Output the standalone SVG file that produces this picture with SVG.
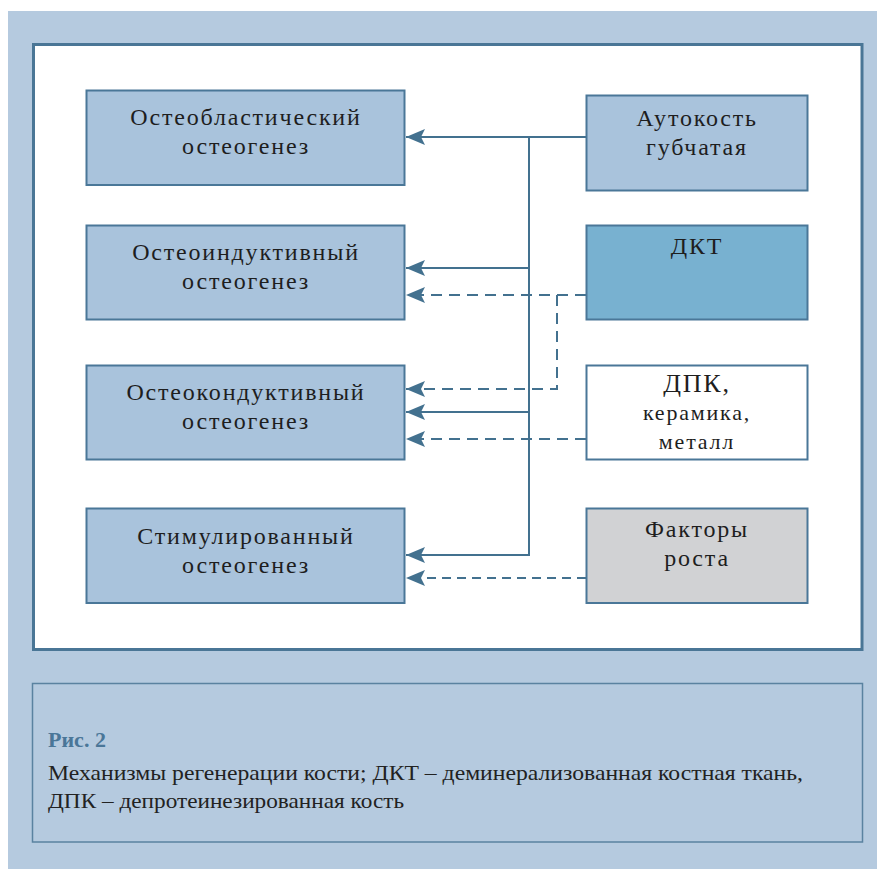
<svg xmlns="http://www.w3.org/2000/svg" width="877" height="869" viewBox="0 0 877 869">
<defs>
<style>
.bx{stroke:#4a7798;stroke-width:2}
.lb{fill:#a9c3dc}
.t{font-family:"Liberation Serif","DejaVu Serif",serif;font-size:24px;fill:#1e1e1e;text-anchor:middle;letter-spacing:1.8px}
.c{fill:none;stroke:#43718f;stroke-width:2}
.d{stroke-dasharray:11 7}
.cap{font-family:"Liberation Serif","DejaVu Serif",serif;font-size:22px;fill:#222}
</style>
<marker id="ah" markerUnits="userSpaceOnUse" markerWidth="20" markerHeight="18" refX="19" refY="8" orient="auto" viewBox="0 0 20 16">
<path d="M0,0 L19,8 L0,16 L4,8 Z" fill="#43718f"/>
</marker>
</defs>
<rect x="8" y="11" width="869" height="858" fill="#b5cadf"/>
<rect x="33.5" y="44.5" width="828.5" height="605" fill="#ffffff" stroke="#4a7696" stroke-width="3"/>
<rect x="32.5" y="683.5" width="830" height="158.5" fill="#b5cadf" stroke="#5a82a0" stroke-width="1.5"/>

<g id="connectors">
<path class="c" d="M586,137 H406" marker-end="url(#ah)"/>
<path class="c" d="M529,137 V555 H406" marker-end="url(#ah)"/>
<path class="c" d="M529,268 H406" marker-end="url(#ah)"/>
<path class="c" d="M529,412 H406" marker-end="url(#ah)"/>
<path class="c d" d="M586,295 H406" marker-end="url(#ah)"/>
<path class="c d" d="M557,295 V389 H406" marker-end="url(#ah)"/>
<path class="c d" d="M586,439 H406" marker-end="url(#ah)"/>
<path class="c" style="stroke-dasharray:9 6" d="M586,578 H406" marker-end="url(#ah)"/>
</g>

<g id="osteoblast">
<rect class="bx lb" x="86.5" y="90.5" width="318" height="94.5"/>
<text class="t" x="246" y="125">Остеобластический</text>
<text class="t" x="246" y="154">остеогенез</text>
</g>
<g id="osteoinduct">
<rect class="bx lb" x="86.5" y="225.5" width="318" height="94"/>
<text class="t" x="246" y="260">Остеоиндуктивный</text>
<text class="t" x="246" y="289">остеогенез</text>
</g>
<g id="osteoconduct">
<rect class="bx lb" x="86.5" y="365.5" width="318" height="94"/>
<text class="t" x="246" y="400">Остеокондуктивный</text>
<text class="t" x="246" y="429">остеогенез</text>
</g>
<g id="stimulated">
<rect class="bx lb" x="86.5" y="508.5" width="318" height="94.5"/>
<text class="t" x="246" y="544">Стимулированный</text>
<text class="t" x="246" y="573">остеогенез</text>
</g>

<g id="autobone">
<rect class="bx lb" x="586.5" y="95.5" width="221" height="95"/>
<text class="t" x="697" y="126">Аутокость</text>
<text class="t" x="697" y="155">губчатая</text>
</g>
<g id="dkt">
<rect class="bx" fill="#78b1d0" x="586.5" y="225.5" width="221" height="94"/>
<text class="t" x="697" y="254">ДКТ</text>
</g>
<g id="dpk">
<rect class="bx" fill="#ffffff" x="586.5" y="365.5" width="221" height="94"/>
<text class="t" x="697" y="392" style="font-size:26px">ДПК,</text>
<text class="t" x="697" y="420" style="font-size:22px">керамика,</text>
<text class="t" x="697" y="449" style="font-size:22px">металл</text>
</g>
<g id="factors">
<rect class="bx" fill="#d1d2d4" x="586.5" y="508.5" width="221" height="94.5"/>
<text class="t" x="697" y="537">Факторы</text>
<text class="t" x="697" y="566">роста</text>
</g>

<g id="caption">
<text class="cap" x="48" y="747" style="font-weight:bold;fill:#4a7698">Рис. 2</text>
<text class="cap" x="48" y="780" textLength="755" lengthAdjust="spacingAndGlyphs">Механизмы регенерации кости; ДКТ – деминерализованная костная ткань,</text>
<text class="cap" x="48" y="808" textLength="356" lengthAdjust="spacingAndGlyphs">ДПК – депротеинезированная кость</text>
</g>
</svg>
